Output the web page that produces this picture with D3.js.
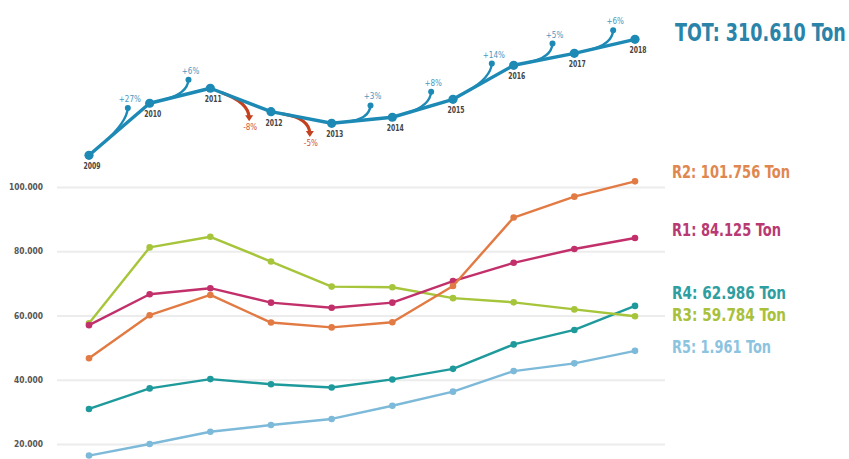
<!DOCTYPE html>
<html>
<head>
<meta charset="utf-8">
<script src="https://cdn.jsdelivr.net/npm/d3@7"></script>
<style>
  html, body { margin: 0; padding: 0; background: #fff; }
  svg { display: block; }
  text { font-family: "Liberation Sans Narrow", "DejaVu Sans Condensed", "Roboto", sans-serif; }
</style>
</head>
<body>
<div id="chart"></div>
<script>
'use strict';

// ── Data ───────────────────────────────────────────
var years = [2009, 2010, 2011, 2012, 2013, 2014, 2015, 2016, 2017, 2018];

var r1 = [57000, 66600, 68500, 64000, 62400, 64000, 70700, 76400, 80700, 84125];
var r2 = [46700, 60100, 66400, 57800, 56300, 57900, 69200, 90500, 97000, 101756];
var r3 = [57600, 81200, 84500, 76800, 69000, 68800, 65400, 64100, 61900, 59784];
var r4 = [30900, 37300, 40200, 38600, 37600, 40100, 43400, 51000, 55500, 62986];
var r5 = [16400, 20000, 23800, 25900, 27800, 31900, 36300, 42700, 45100, 49000];

var totals = [208000, 275300, 294700, 264400, 249400, 257200, 280400, 324400, 339900, 358000];
var changes = ['+27%', '+6%', '-8%', '-5%', '+3%', '+8%', '+14%', '+5%', '+6%'];

var seriesNames = ['R1', 'R2', 'R3', 'R4', 'R5'];
var seriesValues = [r1, r2, r3, r4, r5];
var seriesLabels = ['R1: 84.125 Ton', 'R2: 101.756 Ton', 'R3: 59.784 Ton', 'R4: 62.986 Ton', 'R5: 1.961 Ton'];
var yTicks = [20000, 40000, 60000, 80000, 100000];
var totalLabel = 'TOT: 310.610 Ton';

// ── Styles ─────────────────────────────────────────
var W = 849, H = 459;
var colors = { R1: '#c2306b', R2: '#e27a43', R3: '#a6c53a', R4: '#1f9a9c', R5: '#7db9d9' };
var labelColors = { R1: '#b93a72', R2: '#e0874f', R3: '#a9c13a', R4: '#2f9ea0', R5: '#8cc3df' };
var labelY = { R1: 230, R2: 172, R3: 315, R4: 293, R5: 347 };
var labelW = { R1: 109, R2: 118, R3: 114, R4: 114, R5: 99 };
var topBlue = '#1d89b5';
var downRed = '#c4411f';

var svg = d3.select('#chart').append('svg')
  .attr('width', W)
  .attr('height', H);

// ── Scales ─────────────────────────────────────────
var x = d3.scalePoint().domain(years).range([89, 635]);
var y = d3.scaleLinear().domain([0, 100000]).range([508.25, 187]);
var yTop = d3.scaleLinear().domain([208000, 358000]).range([155.3, 39.3]);

var locale = d3.formatLocale({ decimal: ',', thousands: '.', grouping: [3], currency: ['', ''] });
var fmt = locale.format(',.0f');

// ── Grid + y-axis ──────────────────────────────────
var yAxis = d3.axisLeft(y)
  .tickValues(yTicks)
  .tickSize(-(665 - 57))
  .tickPadding(14)
  .tickFormat(fmt);

var axisG = svg.append('g')
  .attr('transform', 'translate(57,0)')
  .call(yAxis);
axisG.select('.domain').remove();
axisG.selectAll('.tick line')
  .attr('stroke', '#ececec')
  .attr('stroke-width', 2);
axisG.selectAll('.tick text')
  .attr('fill', '#555')
  .attr('font-size', 8)
  .attr('font-weight', 'bold')
  .attr('textLength', function (d) { return d >= 100000 ? 34 : 29; })
  .attr('lengthAdjust', 'spacingAndGlyphs');

// ── Region lines ───────────────────────────────────
var line = d3.line()
  .x(function (d, i) { return x(years[i]); })
  .y(function (d) { return y(d); });

// draw order so R2 sits above others where they cross
var order = [4, 3, 2, 0, 1];
order.forEach(function (k) {
  var name = seriesNames[k];
  var vals = seriesValues[k];
  var g = svg.append('g').attr('class', 'series-' + name);
  g.append('path')
    .datum(vals)
    .attr('d', line)
    .attr('fill', 'none')
    .attr('stroke', colors[name])
    .attr('stroke-width', 2.4)
    .attr('stroke-linejoin', 'round');
  g.selectAll('circle')
    .data(vals)
    .join('circle')
    .attr('cx', function (d, i) { return x(years[i]); })
    .attr('cy', function (d) { return y(d); })
    .attr('r', 3.3)
    .attr('fill', colors[name]);
});

// ── Region labels ──────────────────────────────────
seriesNames.forEach(function (name, k) {
  svg.append('text')
    .attr('x', 672)
    .attr('y', labelY[name])
    .attr('dy', '0.35em')
    .attr('fill', labelColors[name])
    .attr('font-size', 17)
    .attr('font-weight', 'bold')
    .attr('textLength', labelW[name])
    .attr('lengthAdjust', 'spacingAndGlyphs')
    .text(seriesLabels[k]);
});

// ── Total line (top panel) ─────────────────────────
var pts = totals.map(function (v, i) { return [x(years[i]), yTop(v)]; });

// change arrows, drawn under the main line
var arrowG = svg.append('g').attr('class', 'arrows');
changes.forEach(function (c, i) {
  var p0 = pts[i], p1 = pts[i + 1];
  var up = c.charAt(0) !== '-';
  var lerp = function (t) { return [p0[0] + (p1[0] - p0[0]) * t, p0[1] + (p1[1] - p0[1]) * t]; };
  var s = lerp(up ? 0.25 : 0.2);
  var m = lerp(0.64);
  var off = up ? -14 : 14;
  var tip = [m[0], m[1] + off];
  var col = up ? topBlue : downRed;
  arrowG.append('path')
    .attr('d', 'M' + s[0] + ',' + s[1] + ' Q' + (m[0] - 1) + ',' + (m[1] + (up ? 0 : -1)) + ' ' + tip[0] + ',' + tip[1])
    .attr('fill', 'none')
    .attr('stroke', col)
    .attr('stroke-width', up ? 2.4 : 3.2)
    .attr('stroke-linecap', 'round');
  if (up) {
    arrowG.append('circle')
      .attr('cx', tip[0]).attr('cy', tip[1]).attr('r', 3)
      .attr('fill', col);
    arrowG.append('text')
      .attr('x', tip[0] + 2).attr('y', tip[1] - 6)
      .attr('text-anchor', 'middle')
      .attr('fill', '#4a98bf')
      .attr('font-size', 8)
      .text(c);
  } else {
    arrowG.append('path')
      .attr('d', 'M' + (tip[0] - 4) + ',' + (tip[1] - 2) + ' L' + (tip[0] + 4) + ',' + (tip[1] - 2) + ' L' + tip[0] + ',' + (tip[1] + 4) + ' Z')
      .attr('fill', col);
    arrowG.append('text')
      .attr('x', tip[0] + 1).attr('y', tip[1] + 13)
      .attr('text-anchor', 'middle')
      .attr('fill', '#d0563a')
      .attr('font-size', 8)
      .text(c);
  }
});

var topLine = d3.line()
  .x(function (d, i) { return x(years[i]); })
  .y(function (d) { return yTop(d); });

svg.append('path')
  .datum(totals)
  .attr('d', topLine)
  .attr('fill', 'none')
  .attr('stroke', topBlue)
  .attr('stroke-width', 3.4)
  .attr('stroke-linejoin', 'round');

svg.append('g').selectAll('circle')
  .data(totals)
  .join('circle')
  .attr('cx', function (d, i) { return x(years[i]); })
  .attr('cy', function (d) { return yTop(d); })
  .attr('r', 4.6)
  .attr('fill', topBlue);

svg.append('g').selectAll('text')
  .data(totals)
  .join('text')
  .attr('x', function (d, i) { return x(years[i]) + 3; })
  .attr('y', function (d) { return yTop(d) + 14; })
  .attr('text-anchor', 'middle')
  .attr('fill', '#444')
  .attr('font-size', 8.5)
  .attr('font-weight', 'bold')
  .attr('textLength', 17)
  .attr('lengthAdjust', 'spacingAndGlyphs')
  .text(function (d, i) { return years[i]; });

// total label: horizontally squeezed to mimic the condensed face
svg.append('g')
  .attr('transform', 'translate(675,32) scale(0.78,1)')
  .append('text')
  .attr('x', 0)
  .attr('y', 0)
  .attr('dy', '0.35em')
  .attr('fill', '#2a83a8')
  .attr('font-size', 25)
  .attr('font-weight', 'bold')
  .text(totalLabel);
</script>
</body>
</html>
